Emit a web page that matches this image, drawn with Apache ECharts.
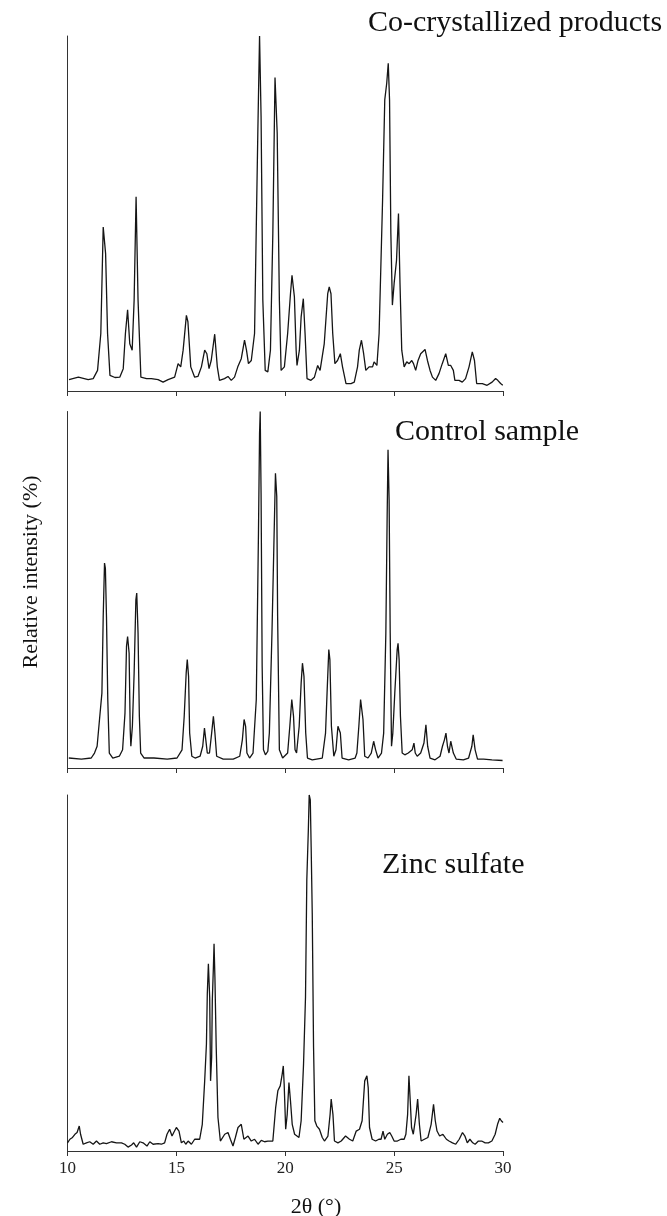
<!DOCTYPE html>
<html><head><meta charset="utf-8">
<script src="https://cdn.jsdelivr.net/npm/echarts@6/dist/echarts.min.js"></script>
<style>html,body{margin:0;padding:0;background:#fff}#c{width:667px;height:1216px}</style>
</head><body><div id="c"></div>
<script>
const panelLabels = ['Co-crystallized products', 'Control sample', 'Zinc sulfate'];
const xTickLabels = ['10', '15', '20', '25', '30'];
const xAxisTitle = '2θ (°)';
const yAxisTitle = 'Relative intensity (%)';

const coTheta = [10.07,10.50,10.57,10.95,11.18,11.38,11.53,11.64,11.75,11.84,11.95,12.18,12.40,12.56,12.66,12.76,12.86,12.97,13.06,13.15,13.24,13.37,13.63,13.85,14.16,14.39,14.62,14.92,15.08,15.20,15.31,15.46,15.53,15.66,15.84,15.99,16.15,16.30,16.40,16.50,16.60,16.76,16.88,16.98,17.21,17.37,17.52,17.67,17.82,17.98,18.13,18.22,18.31,18.44,18.59,18.74,18.82,18.89,18.97,19.08,19.20,19.32,19.43,19.53,19.63,19.73,19.81,19.96,20.11,20.24,20.31,20.42,20.50,20.54,20.65,20.73,20.83,20.91,21.00,21.18,21.34,21.49,21.60,21.79,21.95,22.02,22.10,22.18,22.28,22.40,22.53,22.63,22.79,23.02,23.17,23.32,23.40,23.50,23.60,23.70,23.85,24.01,24.08,24.21,24.31,24.47,24.57,24.66,24.73,24.79,24.85,24.92,25.00,25.11,25.20,25.27,25.35,25.46,25.58,25.69,25.81,25.89,25.99,26.10,26.22,26.42,26.53,26.65,26.76,26.91,27.06,27.21,27.37,27.49,27.60,27.72,27.79,27.98,28.13,28.28,28.44,28.59,28.69,28.79,29.05,29.27,29.50,29.66,29.76,29.89,29.99];
const coIntensity = [3.2,3.9,4.4,3.2,3.5,5.8,16.2,46.2,38.7,16.2,4.4,3.8,3.9,6.3,16.2,22.9,13.3,11.5,25.6,54.7,25.6,3.9,3.5,3.5,3.2,2.5,3.2,3.9,7.7,6.8,11.5,21.3,19.5,6.8,3.9,4.1,6.8,11.5,10.5,6.3,8.6,16.0,6.8,3.0,3.5,4.1,3.0,3.9,6.8,9.1,14.3,11.5,7.7,8.6,16.2,72.6,100,77.3,25.6,5.8,5.4,11.5,44.4,88.3,72.6,25.6,5.8,6.8,16.2,27.4,32.6,26.5,11.5,7.2,11.5,20.9,26.0,16.2,3.5,3.0,3.9,7.2,5.8,13.3,27.4,29.3,27.4,16.2,7.7,8.6,10.5,6.8,2.1,2.1,2.5,6.8,11.5,14.3,10.5,5.8,6.8,6.8,8.2,7.2,16.2,53.8,82.0,86.7,92.3,82.0,44.4,24.2,30.3,36.8,50.0,30.3,11.5,6.8,8.2,7.7,8.6,7.7,5.8,8.6,10.5,11.7,8.6,5.8,3.9,3.0,4.9,7.7,10.5,7.2,7.2,5.8,3.0,3.0,2.5,3.5,6.8,11.0,8.6,2.1,2.1,1.6,2.5,3.5,3.0,2.1,1.6];

const ctrlTheta = [10.06,10.64,11.09,11.24,11.36,11.47,11.58,11.64,11.70,11.74,11.79,11.85,11.92,12.08,12.38,12.53,12.64,12.71,12.76,12.83,12.88,12.91,12.98,13.06,13.14,13.18,13.24,13.30,13.36,13.52,13.97,14.58,15.03,15.26,15.36,15.45,15.50,15.56,15.61,15.71,15.86,16.09,16.21,16.29,16.36,16.42,16.52,16.62,16.70,16.77,16.85,17.15,17.61,17.91,18.03,18.11,18.18,18.24,18.36,18.52,18.67,18.77,18.82,18.85,18.89,18.94,19.00,19.09,19.20,19.27,19.39,19.47,19.55,19.61,19.65,19.73,19.88,20.11,20.21,20.30,20.33,20.38,20.45,20.52,20.64,20.73,20.79,20.86,20.94,21.02,21.24,21.70,21.85,21.92,22.00,22.05,22.12,22.23,22.33,22.42,22.47,22.53,22.61,22.91,23.21,23.29,23.38,23.46,23.51,23.57,23.65,23.80,23.95,24.06,24.15,24.26,24.42,24.52,24.62,24.68,24.72,24.77,24.82,24.88,24.94,25.03,25.14,25.18,25.23,25.29,25.37,25.49,25.65,25.72,25.83,25.91,25.97,26.06,26.22,26.37,26.46,26.54,26.65,26.88,27.11,27.22,27.31,27.38,27.45,27.52,27.60,27.66,27.72,27.85,28.18,28.42,28.57,28.63,28.72,28.83,29.11,29.49,29.98];
const ctrlIntensity = [2.8,2.5,2.8,4.2,6.1,13.6,21.0,42.5,57.5,56.0,42.5,19.2,4.2,2.8,3.3,5.1,15.4,34.1,36.9,32.2,10.7,6.1,11.7,26.6,47.2,49.1,37.9,14.5,4.2,2.8,2.8,2.5,2.8,5.1,14.5,26.6,30.4,25.7,9.8,3.3,2.8,3.3,6.1,11.2,10.7,4.2,4.2,9.8,14.5,9.8,3.3,2.5,2.5,3.3,7.9,13.6,11.7,4.2,2.8,4.2,19.2,65.9,93.9,100,77.1,28.5,5.1,3.7,4.7,9.8,37.9,60.3,82.7,76.2,42.5,5.1,2.8,4.2,11.7,19.2,19.6,14.5,5.1,4.2,11.7,23.8,29.4,25.7,9.8,2.8,2.3,2.8,9.8,21.0,33.2,30.4,11.7,3.3,5.1,11.7,12.1,9.8,2.8,2.3,2.8,4.2,11.7,19.2,19.6,13.6,3.3,2.8,4.2,7.5,5.1,2.8,4.2,9.8,37.9,70.6,89.3,75.2,37.9,6.1,9.8,21.0,33.2,35.0,30.4,14.5,4.2,3.7,4.2,3.7,5.1,7.0,4.2,3.3,4.2,7.0,12.1,6.1,2.8,2.3,3.3,6.1,7.9,9.8,6.1,4.2,7.5,7.9,4.2,2.5,2.3,2.8,6.1,9.3,5.1,2.5,2.5,2.3,2.1];

const znTheta = [10.00,10.11,10.23,10.34,10.44,10.54,10.60,10.72,10.87,11.02,11.18,11.33,11.48,11.64,11.79,12.02,12.25,12.48,12.63,12.78,12.94,13.04,13.17,13.32,13.47,13.65,13.78,13.93,14.16,14.31,14.46,14.57,14.69,14.80,14.88,15.00,15.12,15.23,15.34,15.43,15.54,15.69,15.84,16.07,16.19,16.30,16.38,16.42,16.47,16.53,16.57,16.62,16.65,16.70,16.73,16.77,16.83,16.91,17.02,17.22,17.37,17.48,17.60,17.71,17.83,17.98,18.10,18.29,18.44,18.59,18.75,18.90,19.05,19.20,19.43,19.56,19.66,19.77,19.86,19.91,19.95,20.02,20.09,20.17,20.24,20.32,20.43,20.63,20.73,20.84,20.93,20.99,21.06,21.10,21.15,21.19,21.24,21.30,21.36,21.45,21.57,21.70,21.80,21.96,22.06,22.11,22.19,22.26,22.42,22.57,22.77,22.95,23.10,23.26,23.41,23.53,23.65,23.75,23.81,23.87,23.99,24.15,24.30,24.40,24.49,24.57,24.69,24.80,24.89,25.00,25.15,25.31,25.46,25.54,25.62,25.68,25.74,25.80,25.88,26.01,26.08,26.16,26.24,26.39,26.55,26.70,26.81,26.89,26.97,27.09,27.24,27.40,27.52,27.68,27.83,27.99,28.14,28.25,28.36,28.48,28.61,28.72,28.87,29.02,29.18,29.33,29.49,29.64,29.75,29.85,29.92,30.00];
const znIntensity = [2.3,3.3,3.8,4.7,5.2,7.0,4.7,1.9,2.3,2.6,1.9,2.8,1.9,2.3,2.1,2.6,2.3,2.3,1.9,1.1,1.7,2.3,1.1,2.6,2.3,1.4,2.6,1.9,2.1,1.9,2.3,4.7,6.1,4.2,5.2,6.6,5.6,2.3,2.8,1.9,2.8,1.9,3.3,3.3,7.5,19.7,30.0,44.1,52.6,43.2,19.7,26.3,42.3,51.6,58.2,48.8,29.1,9.4,2.8,4.7,5.2,3.3,1.4,3.8,6.6,7.5,3.3,4.2,2.8,3.3,1.9,3.0,2.6,2.8,2.8,12.2,16.9,18.3,21.6,23.9,18.8,6.1,10.3,19.2,14.1,7.5,4.7,3.8,8.5,24.4,43.2,76.1,90.1,100,98.6,85.4,66.7,29.1,8.5,7.0,6.1,3.8,2.8,4.2,10.3,14.6,10.3,2.8,2.3,2.8,4.2,3.3,2.8,5.6,6.1,8.5,19.7,21.1,17.8,6.6,3.3,2.8,3.3,3.3,5.6,3.3,4.7,5.2,4.2,2.8,2.8,3.3,3.3,4.7,10.3,21.1,14.1,6.6,4.7,10.3,14.6,7.5,2.8,3.3,3.8,7.5,13.1,8.5,5.6,4.2,4.7,3.3,2.8,2.3,1.9,3.3,5.2,4.2,2.3,3.3,2.3,1.9,2.8,2.8,2.3,2.3,2.8,4.7,7.5,9.2,8.5,8.0];

const seriesTheta = [coTheta, ctrlTheta, znTheta];
const seriesIntensity = [coIntensity, ctrlIntensity, znIntensity];

const SERIF = '"Liberation Serif", "Times New Roman", "DejaVu Serif", serif';
const grids = [
  {left: 67.5, top: 36, width: 435.5, height: 355},
  {left: 67.5, top: 411.5, width: 435.5, height: 356.5},
  {left: 67.5, top: 795, width: 435.5, height: 356}
];
const axisColor = '#333';

const option = {
  animation: false,
  backgroundColor: '#fff',
  grid: grids,
  xAxis: grids.map((g, i) => ({
    type: 'value', gridIndex: i, min: 10, max: 30, interval: 5,
    axisLine: {show: true, onZero: false, lineStyle: {color: axisColor, width: 1}},
    axisTick: {show: true, inside: false, length: 5, lineStyle: {color: axisColor, width: 1}},
    axisLabel: {show: i === 2, color: '#222', fontFamily: SERIF, fontSize: 17, margin: 9,
      formatter: v => xTickLabels[Math.round((v - 10) / 5)]},
    splitLine: {show: false}
  })),
  yAxis: grids.map((g, i) => ({
    type: 'value', gridIndex: i, min: 0, max: 100,
    axisLine: {show: true, lineStyle: {color: axisColor, width: 1}},
    axisTick: {show: false}, axisLabel: {show: false}, splitLine: {show: false}
  })),
  series: seriesTheta.map((th, i) => ({
    type: 'line', xAxisIndex: i, yAxisIndex: i, symbol: 'none', showSymbol: false,
    lineStyle: {color: '#151515', width: 1.3}, silent: true,
    data: th.map((t, k) => [t, seriesIntensity[i][k]])
  })),
  graphic: [
    {type: 'text', left: 368, top: 8, style: {text: panelLabels[0], font: '30px ' + SERIF, fill: '#111'}},
    {type: 'text', left: 395, top: 417, style: {text: panelLabels[1], font: '30px ' + SERIF, fill: '#111'}},
    {type: 'text', left: 382, top: 850, style: {text: panelLabels[2], font: '30px ' + SERIF, fill: '#111'}},
    {type: 'text', x: 316, y: 1207, style: {text: xAxisTitle, font: '22px ' + SERIF, fill: '#111', align: 'center', verticalAlign: 'middle'}},
    {type: 'text', x: 31, y: 572, rotation: Math.PI / 2, style: {text: yAxisTitle, font: '22px ' + SERIF, fill: '#111', align: 'center', verticalAlign: 'middle'}}
  ]
};
const chart = echarts.init(document.getElementById('c'), null, {renderer: 'canvas'});
chart.setOption(option);
</script></body></html>
